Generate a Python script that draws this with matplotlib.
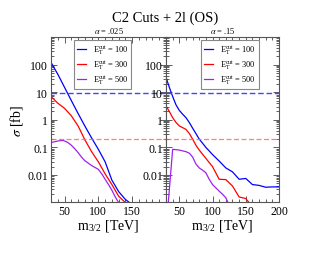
import matplotlib
matplotlib.use("Agg")
import matplotlib.pyplot as plt
import numpy as np
from matplotlib.ticker import FixedLocator, NullFormatter, LogLocator, MultipleLocator

plt.rcParams['font.family'] = ['Liberation Serif', 'DejaVu Serif']
plt.rcParams['mathtext.fontset'] = 'stix'

# ---- data ----
m_left_blue = [30, 40, 50, 60, 70, 80, 90, 100, 110, 120, 130, 140, 146]
v_left_blue = [120, 45, 15, 5, 1.7, 0.6, 0.22, 0.085, 0.03, 0.0065, 0.0025, 0.0013, 0.001]
m_left_red = [30, 40, 50, 60, 70, 80, 90, 100, 110, 120, 130, 140]
v_left_red = [7, 4, 2.6, 1.4, 0.6, 0.19, 0.07, 0.03, 0.011, 0.0045, 0.0017, 0.001]
m_left_purple = [30, 40, 48, 55, 60, 65, 70, 75, 80, 90, 100, 105, 110, 115, 120, 125, 130]
v_left_purple = [0.15, 0.17, 0.18, 0.15, 0.12, 0.09, 0.065, 0.045, 0.033, 0.022, 0.016,
                 0.011, 0.007, 0.0045, 0.0028, 0.0016, 0.001]

m_right_blue = [30, 35, 40, 45, 50, 55, 60, 65, 70, 80, 90, 100, 110, 120, 130, 140, 150,
                160, 170, 180, 190, 200]
v_right_blue = [35, 15, 7, 3.5, 2.2, 1.6, 1.2, 0.8, 0.5, 0.2, 0.1, 0.055, 0.032, 0.018,
                0.013, 0.007, 0.0075, 0.0045, 0.0042, 0.0036, 0.0037, 0.0037]
m_right_red = [30, 35, 40, 45, 50, 55, 60, 65, 70, 75, 80, 90, 100, 110, 120, 130, 140, 150, 155]
v_right_red = [3.2, 2.0, 1.2, 0.8, 0.6, 0.52, 0.45, 0.32, 0.2, 0.12, 0.08, 0.04, 0.02,
               0.007, 0.0068, 0.004, 0.0016, 0.0014, 0.001]
m_right_purple = [30, 40, 50, 60, 65, 70, 75, 80, 85, 90, 95, 100, 110, 115, 120, 125]
v_right_purple = [0.0001, 0.085, 0.08, 0.07, 0.062, 0.045, 0.025, 0.018, 0.015, 0.012,
                  0.007, 0.0045, 0.0026, 0.002, 0.0015, 0.0008]

limit_blue = 9.0
limit_red = 0.2

legend_labels = [r'$\mathregular{E_T^{cut}}$ = 100', r'$\mathregular{E_T^{cut}}$ = 300',
                 r'$\mathregular{E_T^{cut}}$ = 500']
panel_titles = [r'$\alpha$ = .025', r'$\alpha$ = .15']
ytick_vals = [0.01, 0.1, 1, 10, 100]
ytick_labels = ['0.01', '0.1', '1', '10', '100']

colors = ['#0000ff', '#ff0000', '#a020f0']

fig = plt.figure(figsize=(3.3, 2.55), dpi=100)
axL = fig.add_axes([51/330, 1-203/255, 115/330, 165/255])
axR = fig.add_axes([166/330, 1-203/255, 113/330, 165/255])

data = [
    [(m_left_blue, v_left_blue), (m_left_red, v_left_red), (m_left_purple, v_left_purple)],
    [(m_right_blue, v_right_blue), (m_right_red, v_right_red), (m_right_purple, v_right_purple)],
]

for i, ax in enumerate([axL, axR]):
    for (mm, vv), c, lab in zip(data[i], colors, legend_labels):
        ax.plot(mm, vv, color=c, lw=0.9, label=lab)
    ax.axhline(limit_blue, color='#4444ff', lw=1.0, ls=(0, (4, 2)))
    ax.axhline(limit_red, color='#ff6060', lw=0.9, ls=(0, (4, 2)), alpha=0.8)
    ax.set_yscale('log')
    ax.set_xlim(30, 200)
    ax.set_ylim(1.05e-3, 1.0e3)
    ax.yaxis.set_major_locator(FixedLocator(ytick_vals))
    ax.set_yticklabels(ytick_labels)
    ax.yaxis.set_minor_locator(LogLocator(base=10, subs=np.arange(2, 10), numticks=20))
    ax.yaxis.set_minor_formatter(NullFormatter())
    ax.xaxis.set_minor_locator(MultipleLocator(10))
    ax.tick_params(which='both', direction='in', top=True, right=True, labelsize=8.5,
                   width=0.6, pad=2, colors='#444444', labelcolor='black')
    ax.tick_params(which='major', length=4)
    ax.tick_params(which='minor', length=2)
    for s in ax.spines.values():
        s.set_linewidth(0.8)
        s.set_color('#555555')
    ax.set_xlabel(r'm$_{\mathregular{3/2}}$ [TeV]', fontsize=10, labelpad=0)
    ax.set_title(panel_titles[i], fontsize=6, pad=3)

axL.set_xticks([50, 100, 150])
axR.set_xticks([50, 100, 150, 200])
axL.set_ylabel(r'$\sigma$ [fb]', fontsize=10, labelpad=2)

for ax, cx in ((axL, 0.448), (axR, 0.566)):
    leg = ax.legend(loc='upper center', bbox_to_anchor=(cx, 0.99), fontsize=6,
                    fancybox=False, edgecolor='#888888', handlelength=1.1,
                    handletextpad=0.8, borderpad=0.35, labelspacing=0.25,
                    borderaxespad=0.2, framealpha=1)
    leg.get_frame().set_linewidth(0.8)

fig.text(0.5, 1-18/255, 'C2 Cuts + 2l (OS)', ha='center', va='center', fontsize=10.5)

fig.savefig('out.png', dpi=100)
